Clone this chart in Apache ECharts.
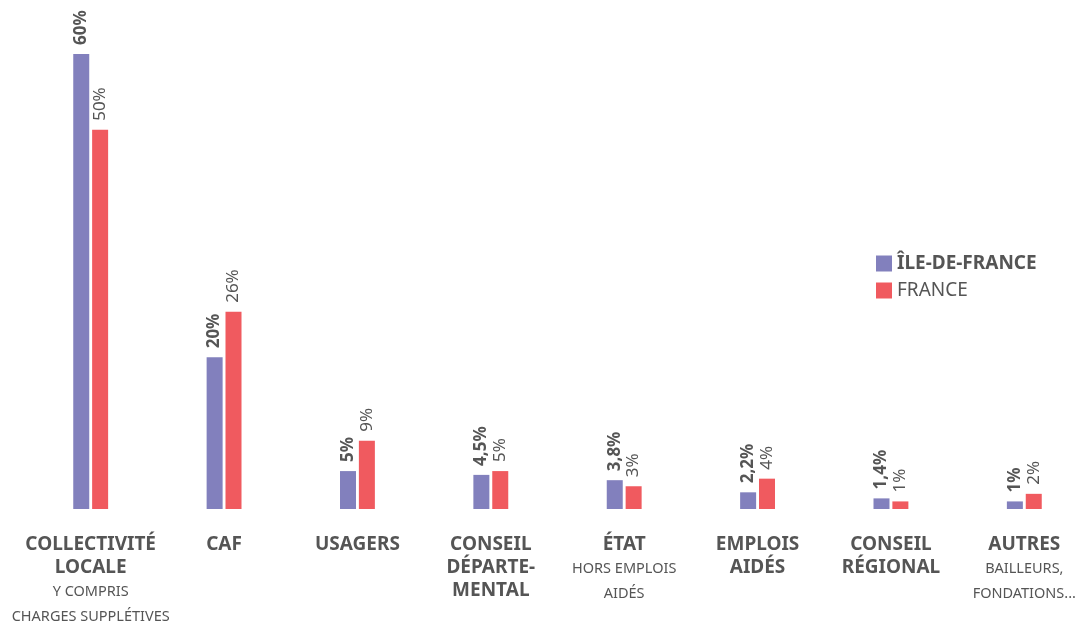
<!DOCTYPE html>
<html>
<head>
<meta charset="utf-8">
<script src="https://cdn.jsdelivr.net/npm/echarts@6/dist/echarts.min.js"></script>
<style>
  html, body { margin: 0; padding: 0; background: #fff; }
  #chart { width: 1091px; height: 624px; }
</style>
</head>
<body>
<div id="chart"></div>
<script>
const categories = ['COLLECTIVITÉ\nLOCALE', 'CAF', 'USAGERS', 'CONSEIL\nDÉPARTE-\nMENTAL', 'ÉTAT', 'EMPLOIS\nAIDÉS', 'CONSEIL\nRÉGIONAL', 'AUTRES'];
const subtitles = ['Y COMPRIS\nCHARGES SUPPLÉTIVES', '', '', '', 'HORS EMPLOIS\nAIDÉS', '', '', 'BAILLEURS,\nFONDATIONS...'];
const idfValues = [60, 20, 5, 4.5, 3.8, 2.2, 1.4, 1];
const franceValues = [50, 26, 9, 5, 3, 4, 1, 2];
const seriesNames = ['ÎLE-DE-FRANCE', 'FRANCE'];

const font = '"Noto Sans", sans-serif';
const grey = '#555';

// etiquettes de categories : nom en gras + precision en plus petit
const catLabel = (value, idx) => {
  let txt = value.split('\n').map(l => '{b|' + l + '}').join('\n');
  if (subtitles[idx]) {
    txt += '\n' + subtitles[idx].split('\n').map(l => '{s|' + l + '}').join('\n');
  }
  return txt;
};

const pct = p => String(p.value).replace('.', ',') + '%';

const myChart = echarts.init(document.getElementById('chart'));
myChart.setOption({
  animation: false,
  textStyle: { fontFamily: font },
  grid: { left: 24, width: 1071, top: 54, bottom: 115 },
  legend: {
    data: seriesNames,
    orient: 'vertical',
    left: 871,
    top: 249,
    itemWidth: 16,
    itemHeight: 16,
    itemGap: 8,
    icon: 'rect',
    formatter: name => name === seriesNames[0] ? '{b|' + name + '}' : '{n|' + name + '}',
    textStyle: {
      rich: {
        b: { fontFamily: font, fontSize: 19, fontWeight: 'bold', color: grey },
        n: { fontFamily: font, fontSize: 19, color: grey }
      }
    }
  },
  xAxis: {
    type: 'category',
    data: categories,
    axisLine: { show: false },
    axisTick: { show: false },
    axisLabel: {
      interval: 0,
      margin: 24,
      formatter: catLabel,
      rich: {
        b: { fontFamily: font, fontSize: 19, fontWeight: 'bold', color: grey, lineHeight: 23 },
        s: { fontFamily: font, fontSize: 14.5, color: grey, lineHeight: 25 }
      }
    }
  },
  yAxis: {
    type: 'value',
    min: 0,
    max: 60,
    show: false,
    splitLine: { show: false }
  },
  series: [
    {
      name: seriesNames[0],
      type: 'bar',
      data: idfValues,
      barWidth: 16,
      barGap: '18%',
      itemStyle: { color: '#8280bd' },
      label: {
        show: true,
        position: 'top',
        rotate: 90,
        align: 'left',
        verticalAlign: 'middle',
        distance: 9,
        formatter: pct,
        fontFamily: font,
        fontSize: 17,
        fontWeight: 'bold',
        color: grey
      }
    },
    {
      name: seriesNames[1],
      type: 'bar',
      data: franceValues,
      barWidth: 16,
      itemStyle: { color: '#f05a5f' },
      label: {
        show: true,
        position: 'top',
        rotate: 90,
        align: 'left',
        verticalAlign: 'middle',
        distance: 9,
        formatter: pct,
        fontFamily: font,
        fontSize: 17,
        color: grey
      }
    }
  ]
});
</script>
</body>
</html>
